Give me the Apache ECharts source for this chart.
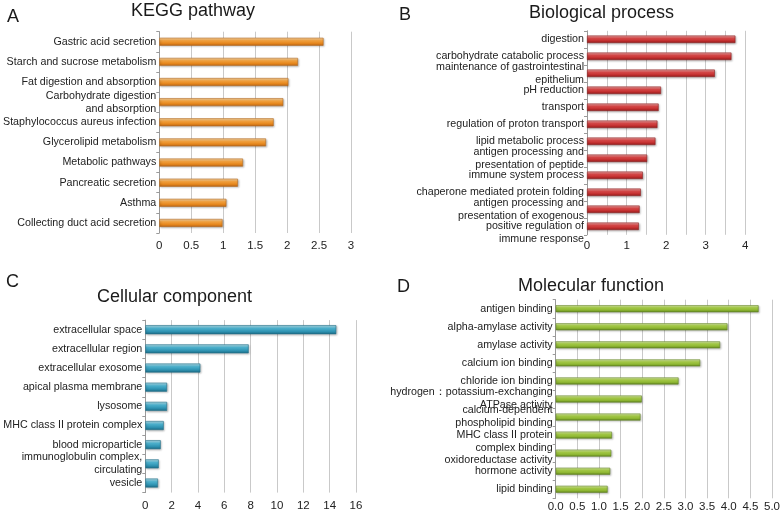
<!DOCTYPE html>
<html>
<head>
<meta charset="utf-8">
<script src="https://cdn.jsdelivr.net/npm/echarts@6/dist/echarts.min.js"></script>
<style>
  html, body { margin: 0; padding: 0; background: #fff; }
  #chart { width: 784px; height: 514px; }
</style>
</head>
<body>
<div id="chart"></div>
<script>
// A: KEGG pathway
var keggNames = ['Gastric acid secretion', 'Starch and sucrose metabolism', 'Fat digestion and absorption',
  'Carbohydrate digestion\nand absorption', 'Staphylococcus aureus infection', 'Glycerolipid metabolism',
  'Metabolic pathways', 'Pancreatic secretion', 'Asthma', 'Collecting duct acid secretion'];
var keggValues = [2.57, 2.17, 2.02, 1.94, 1.79, 1.67, 1.31, 1.23, 1.05, 0.99];

// B: Biological process
var bpNames = ['digestion', 'carbohydrate catabolic process', 'maintenance of gastrointestinal\nepithelium',
  'pH reduction', 'transport', 'regulation of proton transport', 'lipid metabolic process',
  'antigen processing and\npresentation of peptide', 'immune system process',
  'chaperone mediated protein folding', 'antigen processing and\npresentation of exogenous',
  'positive regulation of\nimmune response'];
var bpValues = [3.75, 3.65, 3.23, 1.87, 1.81, 1.78, 1.73, 1.52, 1.41, 1.36, 1.33, 1.31];

// C: Cellular component
var ccNames = ['extracellular space', 'extracellular region', 'extracellular exosome', 'apical plasma membrane',
  'lysosome', 'MHC class II protein complex', 'blood microparticle', 'immunoglobulin complex,\ncirculating', 'vesicle'];
var ccValues = [14.5, 7.85, 4.18, 1.65, 1.65, 1.4, 1.17, 1.02, 0.96];

// D: Molecular function
var mfNames = ['antigen binding', 'alpha-amylase activity', 'amylase activity', 'calcium ion binding',
  'chloride ion binding', 'hydrogen：potassium-exchanging\nATPase activity', 'calcium-dependent\nphospholipid binding',
  'MHC class II protein\ncomplex binding', 'oxidoreductase activity', 'hormone activity', 'lipid binding'];
var mfValues = [4.69, 3.97, 3.80, 3.34, 2.84, 1.99, 1.96, 1.30, 1.285, 1.26, 1.20];

var font = 'Liberation Sans, Arial, sans-serif';

// in the original a few labels sit half a line below their bar
function lowered(idxs) {
  return function (v, i) { return idxs.indexOf(i) >= 0 ? '\n' + v : v; };
}

function grad(c0, c1, c2, c3) {
  return new echarts.graphic.LinearGradient(0, 0, 0, 1, [
    {offset: 0, color: c0}, {offset: 0.35, color: c1}, {offset: 0.7, color: c2}, {offset: 1, color: c3}
  ]);
}

function xAx(idx, max, interval, fmt, margin) {
  return {
    type: 'value', gridIndex: idx, min: 0, max: max, interval: interval,
    axisLine: {show: false}, axisTick: {show: false},
    splitLine: {show: true, lineStyle: {color: '#c9c9c9', width: 1}},
    axisLabel: {fontFamily: font, fontSize: 11.5, color: '#222', margin: margin, formatter: fmt}
  };
}

function yAx(idx, names, fmt) {
  return {
    type: 'category', gridIndex: idx, data: names, inverse: true,
    axisLine: {show: true, lineStyle: {color: '#9a9a9a'}},
    axisTick: {show: true, length: 3, lineStyle: {color: '#9a9a9a'}},
    axisLabel: {fontFamily: font, fontSize: 10.7, color: '#222', margin: 3, lineHeight: 13, interval: 0,
      formatter: fmt || null}
  };
}

function bars(idx, vals, width, fill, border) {
  return {
    type: 'bar', xAxisIndex: idx, yAxisIndex: idx, data: vals, barWidth: width,
    itemStyle: {color: fill, borderColor: border, borderWidth: 0.6,
      shadowColor: 'rgba(0,0,0,0.25)', shadowBlur: 2, shadowOffsetY: 1, shadowOffsetX: 1},
    emphasis: {disabled: true}
  };
}

var titleStyle = {fontFamily: font, fontSize: 18, fontWeight: 'normal', color: '#1a1a1a'};
var letterStyle = {fontFamily: font, fontSize: 18, fontWeight: 'normal', color: '#1a1a1a'};

function ttl(text, left, top, style) {
  return {text: text, left: left, top: top, padding: 0, textStyle: style};
}

var option = {
  animation: false,
  title: [
    ttl('KEGG pathway', 131, 2, titleStyle),
    ttl('Biological process', 529, 4, titleStyle),
    ttl('Cellular component', 97, 288, titleStyle),
    ttl('Molecular function', 518, 277, titleStyle),
    ttl('A', 7, 8, letterStyle),
    ttl('B', 399, 6, letterStyle),
    ttl('C', 6, 273, letterStyle),
    ttl('D', 397, 278, letterStyle)
  ],
  grid: [
    {left: 158.7, width: 192.3, top: 31.7, height: 201.3},
    {left: 587, width: 158.3, top: 30.8, height: 204},
    {left: 145.3, width: 210.7, top: 320.1, height: 172.5},
    {left: 555.7, width: 216.3, top: 299.7, height: 198.6}
  ],
  xAxis: [
    xAx(0, 3, 0.5, null, 7),
    xAx(1, 4, 0.5, function (v) { return v % 1 === 0 ? String(v) : ''; }, 5),
    xAx(2, 16, 2, null, 7),
    xAx(3, 5, 0.5, function (v) { return v.toFixed(1); }, 3)
  ],
  yAxis: [
    yAx(0, keggNames),
    yAx(1, bpNames, lowered([11])),
    yAx(2, ccNames),
    yAx(3, mfNames, lowered([7, 8]))
  ],
  series: [
    bars(0, keggValues, 8, grad('#fcdcae', '#f2a240', '#e5861c', '#b8661a'), '#b36a20'),
    bars(1, bpValues, 7.5, grad('#f2b0b0', '#d84a4a', '#c22f2f', '#8e1c1c'), '#8e2222'),
    bars(2, ccValues, 9, grad('#b6e2ee', '#4cb0cc', '#2f93b2', '#1d6c86'), '#22708a'),
    bars(3, mfValues, 7, grad('#e2f2b4', '#a6cc48', '#8db532', '#5f841e'), '#66872a')
  ]
};

echarts.init(document.getElementById('chart')).setOption(option);
</script>
</body>
</html>
